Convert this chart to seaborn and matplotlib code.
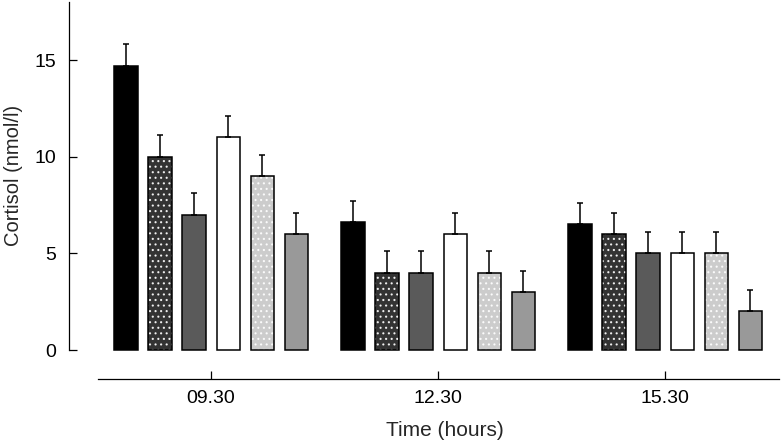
import numpy as np
import pandas as pd
import matplotlib
matplotlib.use("Agg")
import matplotlib.pyplot as plt
import matplotlib.transforms as mtransforms
import seaborn as sns

# Dati
times = ['09.30', '12.30', '15.30']
groups = ['G1', 'G2', 'G3', 'G4', 'G5', 'G6']
cortisol = {
    'G1': [14.7, 6.6, 6.5],
    'G2': [10.0, 4.0, 6.0],
    'G3': [7.0, 4.0, 5.0],
    'G4': [11.0, 6.0, 5.0],
    'G5': [9.0, 4.0, 5.0],
    'G6': [6.0, 3.0, 2.0],
}
sem = {
    'G1': [1.15, 1.1, 1.1],
    'G2': [1.1, 1.1, 1.1],
    'G3': [1.1, 1.1, 1.1],
    'G4': [1.1, 1.1, 1.1],
    'G5': [1.1, 1.1, 1.1],
    'G6': [1.1, 1.1, 1.1],
}
colors = ['#000000', '#333333', '#5a5a5a', '#ffffff', '#cccccc', '#999999']
dotted = [False, True, False, False, True, False]

rows = []
for g in groups:
    for t, v in zip(times, cortisol[g]):
        rows.append({'time': t, 'group': g, 'value': v})
df = pd.DataFrame(rows)

sns.set_style('ticks')
plt.rcParams['font.family'] = ['Liberation Sans', 'DejaVu Sans']
plt.rcParams['hatch.linewidth'] = 0.8

fig = plt.figure(figsize=(7.82, 4.46), dpi=100)
ax = fig.add_axes([0.0882, 0.150, 0.9118, 0.8455])

sns.barplot(data=df, x='time', y='value', hue='group', order=times,
            hue_order=groups, palette=colors, width=0.9, gap=0.32,
            errorbar=None, legend=False, ax=ax, saturation=1)

# bordi, puntini e barre di errore
bar_conts = list(ax.containers)
for i, cont in enumerate(bar_conts):
    g = groups[i]
    xs = []
    for p in cont.patches:
        p.set_edgecolor('black')
        p.set_linewidth(1.1)
        if dotted[i]:
            p.set_hatch('...')
            p._hatch_color = (1, 1, 1, 0.85)
        xs.append(p.get_x() + p.get_width() / 2)
    ax.errorbar(xs, cortisol[g], yerr=[np.zeros(3), sem[g]], fmt='none',
                ecolor='black', elinewidth=1.1, capsize=2.3, capthick=1.1,
                zorder=1)

ax.set_ylim(-1.5, 18)
ax.set_xlim(-0.626, 2.515)
ax.set_yticks([0, 5, 10, 15])
ax.spines['right'].set_visible(False)
ax.spines['top'].set_visible(False)
ax.spines['left'].set_bounds(0, 18)
ax.spines['bottom'].set_bounds(-0.5, 2.5)
for s in ['left', 'bottom']:
    ax.spines[s].set_linewidth(0.9)
    ax.spines[s].set_color('black')

ax.tick_params(axis='both', direction='in', length=6, width=0.9,
               labelsize=14, colors='black')
ax.tick_params(axis='x', pad=8)
ax.tick_params(axis='y', pad=9)

ax.set_xlabel('Time (hours)', fontsize=15)
ax.set_ylabel('Cortisol (nmol/l)', fontsize=14.5)
blend = mtransforms.blended_transform_factory(ax.transData, ax.transAxes)
ax.xaxis.set_label_coords(1.03, -0.11, transform=blend)
ax.yaxis.set_label_coords(-0.064, 0.54)

fig.savefig('out.png', dpi=100)
